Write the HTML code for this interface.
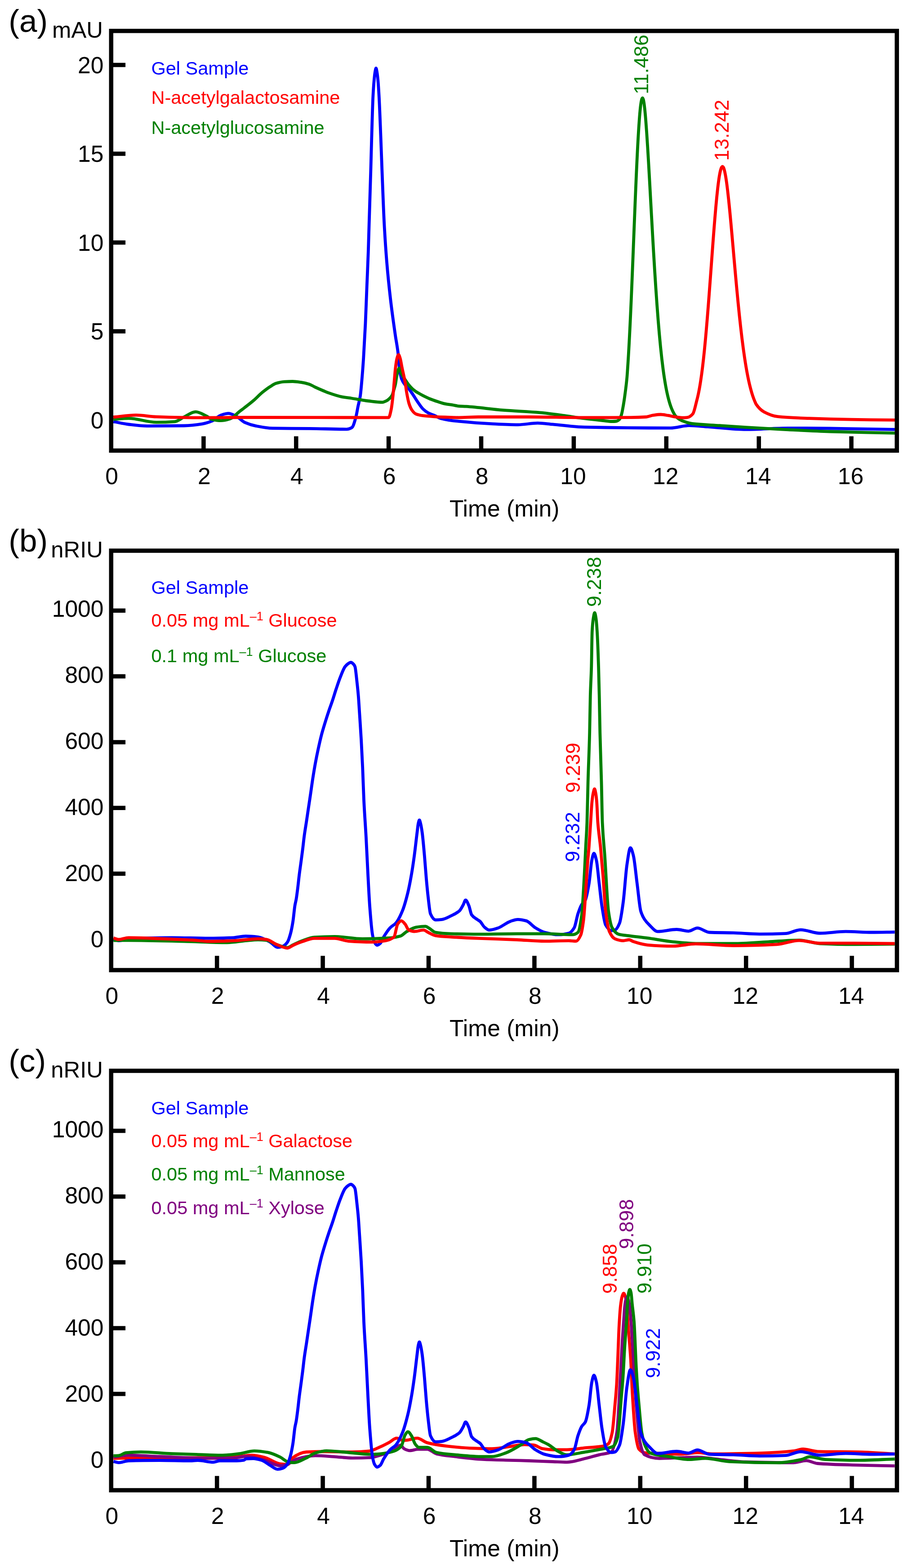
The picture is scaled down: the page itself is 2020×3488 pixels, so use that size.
<!DOCTYPE html><html><head><meta charset="utf-8"><title>Chromatograms</title>
<style>html,body{margin:0;padding:0;background:#fff;}svg{display:block;}text{font-family:'Liberation Sans', Arial, Helvetica, sans-serif;}</style></head><body>
<svg width="2020" height="3488" viewBox="0 0 2020 3488">
<rect width="2020" height="3488" fill="#fff"/>
<clipPath id="clipa"><rect x="247.3" y="68.8" width="1747.9" height="933.5"/></clipPath><g clip-path="url(#clipa)"><path d="M252.20,937.80C263.47,939.87 274.73,942.65 286.00,944.00C299.77,945.65 313.53,947.60 327.30,947.60C354.70,947.60 382.10,947.41 409.50,947.00C423.20,946.79 436.90,945.07 450.60,942.90C457.47,941.81 464.33,939.52 471.20,936.70C478.07,933.88 484.93,925.65 491.80,923.40C497.27,921.60 502.73,919.70 508.20,919.70C513.70,919.70 519.20,922.87 524.70,925.40C531.47,928.51 538.23,936.81 545.00,939.80C553.23,943.44 561.47,945.98 569.70,947.60C582.03,950.03 594.37,952.51 606.70,952.70C634.13,953.13 661.57,953.01 689.00,953.30C716.40,953.59 743.80,954.80 771.20,954.80C775.13,954.80 779.07,953.35 783.00,951.00C785.90,949.27 788.80,938.34 791.70,928.00C793.30,922.30 794.90,911.76 796.50,904.00C798.20,895.76 799.90,891.15 801.60,880.00C802.90,871.47 804.20,855.22 805.50,840.00C806.57,827.51 807.63,813.26 808.70,796.80C810.10,775.20 811.50,749.87 812.90,720.00C814.00,696.53 815.10,664.29 816.20,636.80C817.23,610.98 818.27,589.76 819.30,560.00C819.90,542.72 820.50,519.76 821.10,500.00C822.33,459.39 823.57,422.68 824.80,380.00C825.43,358.08 826.07,331.81 826.70,310.50C827.73,275.74 828.77,235.67 829.80,215.20C830.63,198.69 831.47,186.99 832.30,178.00C833.00,170.44 833.70,163.82 834.40,160.00C835.10,156.18 835.80,151.60 836.50,151.60C837.20,151.60 837.90,156.25 838.60,160.00C839.33,163.93 840.07,170.30 840.80,178.00C841.63,186.74 842.47,200.20 843.30,215.20C844.63,239.20 845.97,276.77 847.30,310.50C848.17,332.42 849.03,357.96 849.90,380.00C851.57,422.39 853.23,469.19 854.90,500.00C856.73,533.90 858.57,559.90 860.40,582.20C863.13,615.45 865.87,640.92 868.60,664.50C872.27,696.14 875.93,721.40 879.60,746.70C881.57,760.27 883.53,768.33 885.50,785.00C886.50,793.47 887.50,811.68 888.50,818.70C890.17,830.39 891.83,838.60 893.50,843.00C896.00,849.60 898.50,852.85 901.00,856.00C903.17,858.73 905.33,860.04 907.50,862.50C910.50,865.90 913.50,870.22 916.50,874.50C920.60,880.35 924.70,887.63 928.80,893.50C932.90,899.37 937.00,906.02 941.10,909.90C945.23,913.81 949.37,916.87 953.50,919.00C957.60,921.12 961.70,922.17 965.80,923.90C971.27,926.21 976.73,929.78 982.20,931.30C987.70,932.82 993.20,933.78 998.70,934.60C1005.80,935.66 1012.90,936.42 1020.00,937.10C1043.97,939.41 1067.93,941.43 1091.90,942.60C1112.00,943.58 1132.10,944.80 1152.20,944.80C1166.83,944.80 1181.47,941.20 1196.10,941.20C1207.07,941.20 1218.03,942.97 1229.00,943.90C1252.67,945.91 1276.33,949.70 1300.00,950.20C1363.97,951.56 1427.93,952.20 1491.90,952.20C1505.60,952.20 1519.30,946.70 1533.00,946.70C1546.73,946.70 1560.47,948.47 1574.20,949.40C1602.80,951.33 1631.40,955.40 1660.00,955.40C1691.07,955.40 1722.13,952.30 1753.20,952.30C1784.27,952.30 1815.33,952.69 1846.40,953.00C1894.57,953.49 1942.73,954.60 1990.90,955.40" fill="none" stroke="#0000ff" stroke-width="6.8" stroke-linejoin="round" stroke-linecap="butt"/><path d="M252.20,932.60C263.47,931.93 274.73,930.60 286.00,930.60C306.60,930.60 327.20,939.40 347.80,939.40C361.53,939.40 375.27,938.90 389.00,937.80C395.83,937.26 402.67,930.71 409.50,927.50C418.07,923.47 426.63,916.20 435.20,916.20C443.10,916.20 451.00,921.63 458.90,925.40C463.00,927.36 467.10,931.57 471.20,932.60C478.07,934.33 484.93,935.70 491.80,935.70C498.63,935.70 505.47,933.78 512.30,931.60C519.17,929.41 526.03,920.49 532.90,915.20C536.50,912.43 540.10,909.87 543.70,907.10C550.70,901.71 557.70,896.41 564.70,890.40C570.87,885.10 577.03,878.26 583.20,873.20C589.37,868.14 595.53,863.46 601.70,859.60C605.80,857.04 609.90,854.04 614.00,852.80C620.17,850.93 626.33,849.44 632.50,849.10C638.67,848.76 644.83,848.50 651.00,848.50C657.17,848.50 663.33,849.52 669.50,850.40C675.67,851.28 681.83,852.71 688.00,854.70C692.13,856.04 696.27,858.86 700.40,860.80C706.93,863.86 713.47,866.74 720.00,869.50C723.37,870.92 726.73,872.41 730.10,873.60C740.37,877.23 750.63,880.79 760.90,882.80C768.00,884.19 775.10,884.91 782.20,886.00C794.80,887.94 807.40,890.56 820.00,892.00C830.27,893.18 840.53,894.80 850.80,894.80C853.87,894.80 856.93,893.03 860.00,891.50C862.00,890.50 864.00,888.86 866.00,887.00C868.10,885.05 870.20,883.11 872.30,879.30C873.53,877.06 874.77,872.09 876.00,868.00C877.23,863.91 878.47,860.28 879.70,854.60C880.80,849.53 881.90,839.31 883.00,834.00C883.83,829.98 884.67,826.22 885.50,824.00C886.33,821.78 887.17,819.00 888.00,819.00C888.83,819.00 889.67,820.50 890.50,822.00C891.33,823.50 892.17,829.00 893.00,831.00C895.67,837.39 898.33,839.92 901.00,844.00C904.00,848.59 907.00,853.34 910.00,857.00C912.50,860.05 915.00,862.74 917.50,865.00C919.83,867.11 922.17,868.91 924.50,870.50C927.33,872.44 930.17,873.97 933.00,875.60C935.67,877.13 938.33,878.64 941.00,880.00C946.33,882.72 951.67,885.35 957.00,887.50C962.67,889.79 968.33,891.67 974.00,893.50C979.50,895.27 985.00,897.29 990.50,898.40C995.97,899.50 1001.43,899.99 1006.90,900.90C1011.27,901.63 1015.63,902.93 1020.00,903.30C1025.67,903.78 1031.33,903.83 1037.00,904.20C1064.43,905.98 1091.87,910.21 1119.30,912.40C1146.73,914.59 1174.17,915.47 1201.60,917.90C1219.87,919.52 1238.13,922.25 1256.40,924.70C1270.93,926.65 1285.47,929.19 1300.00,931.00C1313.70,932.70 1327.40,934.11 1341.10,935.50C1348.07,936.21 1355.03,937.50 1362.00,937.50C1365.00,937.50 1368.00,937.32 1371.00,937.00C1373.17,936.77 1375.33,935.42 1377.50,933.50C1379.17,932.02 1380.83,927.70 1382.50,922.60C1383.97,918.11 1385.43,909.02 1386.90,900.60C1388.00,894.28 1389.10,886.83 1390.20,878.70C1391.73,867.36 1393.27,856.49 1394.80,839.69C1395.18,835.60 1395.55,829.78 1395.92,824.46C1396.30,819.09 1396.68,813.44 1397.06,807.56C1397.44,801.62 1397.82,795.39 1398.20,788.94C1398.59,782.42 1398.97,775.60 1399.36,768.56C1399.75,761.45 1400.14,754.05 1400.53,746.43C1400.93,738.73 1401.32,730.75 1401.71,722.57C1402.11,714.30 1402.51,705.76 1402.91,697.04C1403.31,688.23 1403.71,679.16 1404.12,669.94C1404.52,660.63 1404.93,651.08 1405.34,641.41C1405.75,631.64 1406.16,621.67 1406.57,611.62C1406.98,601.47 1407.40,591.14 1407.81,580.79C1408.23,570.33 1408.65,559.74 1409.07,549.17C1409.49,538.49 1409.92,527.73 1410.34,517.05C1410.77,506.26 1411.19,495.44 1411.62,484.76C1412.05,473.98 1412.48,463.21 1412.91,452.65C1413.35,442.00 1413.79,431.41 1414.22,421.11C1414.66,410.70 1415.10,400.43 1415.54,390.51C1415.98,380.50 1416.43,370.67 1416.87,361.27C1417.32,351.78 1417.76,342.53 1418.21,333.78C1418.66,324.95 1419.12,316.41 1419.57,308.44C1420.02,300.40 1420.48,292.68 1420.94,285.62C1421.40,278.49 1421.86,271.71 1422.32,265.66C1422.78,259.56 1423.24,253.81 1423.71,248.88C1424.18,243.90 1424.64,239.26 1425.11,235.54C1425.58,231.78 1426.06,228.27 1426.53,225.85C1427.01,223.40 1427.48,220.95 1427.96,219.97C1428.44,218.98 1428.92,218.00 1429.40,218.00C1429.98,218.00 1430.55,219.63 1431.13,221.23C1431.72,222.87 1432.32,226.90 1432.91,230.82C1433.53,234.86 1434.14,240.57 1434.76,246.52C1435.39,252.67 1436.03,260.14 1436.66,267.93C1437.32,275.96 1437.97,285.08 1438.62,294.49C1439.30,304.18 1439.97,314.75 1440.65,325.54C1441.34,336.64 1442.03,348.42 1442.73,360.32C1443.44,372.56 1444.16,385.29 1444.87,398.03C1445.60,411.11 1446.34,424.52 1447.07,437.82C1447.82,451.47 1448.57,465.28 1449.33,478.86C1450.10,492.80 1450.87,506.75 1451.65,520.36C1452.44,534.31 1453.23,548.16 1454.02,561.56C1454.84,575.30 1455.65,588.81 1456.46,601.81C1457.29,615.12 1458.12,628.10 1458.96,640.51C1459.81,653.22 1460.66,665.53 1461.51,677.21C1462.38,689.17 1463.25,700.68 1464.12,711.53C1465.02,722.63 1465.91,733.25 1466.80,743.21C1467.71,753.39 1468.62,763.06 1469.53,772.08C1470.46,781.30 1471.39,790.01 1472.32,798.08C1473.27,806.33 1474.22,814.08 1475.17,821.22C1476.14,828.51 1477.11,835.33 1478.08,841.57C1479.07,847.94 1480.06,853.87 1481.05,859.27C1482.06,864.78 1483.07,869.88 1484.08,874.50C1485.11,879.20 1486.14,883.54 1487.17,887.45C1488.22,891.43 1489.26,895.08 1490.31,898.35C1491.38,901.69 1492.45,904.73 1493.52,907.44C1494.61,910.20 1495.70,912.76 1496.78,914.92C1498.86,919.03 1500.93,923.07 1503.00,925.50C1505.67,928.62 1508.33,930.87 1511.00,932.50C1515.50,935.26 1520.00,937.14 1524.50,938.60C1529.67,940.28 1534.83,941.87 1540.00,942.50C1560.53,944.99 1581.07,945.30 1601.60,946.70C1621.07,948.03 1640.53,949.51 1660.00,950.70C1691.07,952.61 1722.13,954.26 1753.20,955.80C1784.27,957.34 1815.33,959.04 1846.40,960.00C1894.57,961.50 1942.73,962.20 1990.90,963.30" fill="none" stroke="#008000" stroke-width="6.8" stroke-linejoin="round" stroke-linecap="butt"/><path d="M252.20,927.90C269.00,926.40 285.80,923.40 302.60,923.40C317.67,923.40 332.73,926.59 347.80,927.10C382.07,928.27 416.33,929.10 450.60,929.10C482.07,929.10 513.53,928.50 545.00,928.50C651.53,928.50 758.07,928.90 864.60,928.90C866.53,928.90 868.47,919.09 870.40,910.00C871.70,903.89 873.00,892.09 874.30,880.00C875.13,872.25 875.97,860.93 876.80,851.60C877.80,840.40 878.80,826.59 879.80,818.50C880.93,809.34 882.07,800.81 883.20,797.00C884.37,793.07 885.53,789.00 886.70,789.00C887.87,789.00 889.03,793.39 890.20,797.00C891.63,801.44 893.07,811.54 894.50,818.50C896.73,829.35 898.97,837.56 901.20,850.00C902.47,857.05 903.73,868.08 905.00,875.00C906.63,883.92 908.27,892.59 909.90,897.60C912.10,904.35 914.30,909.31 916.50,912.40C919.23,916.23 921.97,919.43 924.70,920.60C930.17,922.94 935.63,923.98 941.10,924.70C949.33,925.78 957.57,926.29 965.80,926.80C974.03,927.31 982.27,927.71 990.50,928.00C1000.33,928.35 1010.17,928.80 1020.00,928.80C1034.83,928.80 1049.67,927.50 1064.50,927.50C1101.07,927.50 1137.63,927.50 1174.20,927.50C1216.13,927.50 1258.07,928.90 1300.00,928.90C1334.63,928.90 1369.27,928.82 1403.90,928.60C1414.87,928.53 1425.83,928.20 1436.80,927.50C1442.27,927.15 1447.73,924.48 1453.20,923.70C1458.70,922.92 1464.20,922.00 1469.70,922.00C1475.17,922.00 1480.63,923.32 1486.10,924.20C1491.60,925.08 1497.10,926.78 1502.60,927.50C1508.40,928.26 1514.20,929.20 1520.00,929.20C1523.33,929.20 1526.67,928.82 1530.00,928.30C1533.77,927.71 1537.53,924.98 1541.30,920.60C1544.37,917.04 1547.43,900.89 1550.50,889.34C1551.19,886.74 1551.88,883.95 1552.57,880.94C1553.26,877.92 1553.96,874.65 1554.65,871.17C1555.34,867.68 1556.03,863.91 1556.73,859.91C1557.42,855.91 1558.12,851.61 1558.81,847.07C1559.50,842.52 1560.20,837.65 1560.89,832.54C1561.59,827.41 1562.28,821.96 1562.98,816.25C1563.67,810.53 1564.37,804.47 1565.07,798.16C1565.76,791.85 1566.46,785.18 1567.16,778.28C1567.85,771.36 1568.55,764.11 1569.25,756.62C1569.95,749.13 1570.64,741.31 1571.34,733.28C1572.04,725.24 1572.74,716.90 1573.44,708.38C1574.14,699.86 1574.84,691.06 1575.54,682.12C1576.24,673.18 1576.94,663.99 1577.64,654.73C1578.34,645.46 1579.04,635.99 1579.74,626.50C1580.45,617.00 1581.15,607.37 1581.85,597.78C1582.55,588.18 1583.26,578.50 1583.96,568.95C1584.66,559.39 1585.37,549.81 1586.07,540.45C1586.77,531.07 1587.48,521.74 1588.18,512.72C1588.89,503.68 1589.59,494.76 1590.30,486.23C1591.00,477.70 1591.71,469.34 1592.41,461.47C1593.12,453.59 1593.83,445.94 1594.53,438.89C1595.24,431.82 1595.95,425.03 1596.66,418.93C1597.36,412.82 1598.07,407.02 1598.78,402.00C1599.49,396.98 1600.20,392.25 1600.91,388.44C1601.62,384.63 1602.33,381.04 1603.04,378.55C1603.75,376.05 1604.46,373.53 1605.17,372.52C1605.88,371.51 1606.59,370.50 1607.30,370.50C1608.02,370.50 1608.75,371.62 1609.47,372.71C1610.21,373.83 1610.95,376.59 1611.69,379.29C1612.44,382.05 1613.20,385.96 1613.95,390.08C1614.72,394.28 1615.49,399.43 1616.26,404.83C1617.05,410.35 1617.83,416.65 1618.62,423.21C1619.42,429.90 1620.22,437.25 1621.03,444.81C1621.84,452.51 1622.66,460.75 1623.48,469.15C1624.31,477.70 1625.14,486.67 1625.98,495.72C1626.82,504.94 1627.67,514.47 1628.52,523.99C1629.38,533.70 1630.25,543.60 1631.11,553.43C1631.99,563.43 1632.87,573.53 1633.75,583.49C1634.65,593.62 1635.54,603.75 1636.44,613.67C1637.35,623.76 1638.26,633.78 1639.17,643.51C1640.10,653.42 1641.02,663.17 1641.95,672.60C1642.89,682.18 1643.83,691.56 1644.78,700.57C1645.73,709.73 1646.69,718.63 1647.65,727.13C1648.62,735.77 1649.60,744.12 1650.57,752.05C1651.56,760.11 1652.55,767.85 1653.54,775.16C1654.54,782.59 1655.55,789.69 1656.55,796.35C1657.57,803.12 1658.59,809.56 1659.61,815.58C1660.65,821.69 1661.68,827.47 1662.72,832.84C1663.77,838.29 1664.82,843.43 1665.88,848.17C1666.94,852.99 1668.01,857.51 1669.08,861.66C1670.16,865.88 1671.24,869.81 1672.32,873.41C1673.42,877.07 1674.52,880.46 1675.62,883.55C1676.73,886.68 1677.85,889.58 1678.96,892.21C1680.09,894.87 1681.22,897.89 1682.35,899.54C1688.10,907.93 1693.85,913.13 1699.60,916.20C1709.70,921.58 1719.80,925.60 1729.90,926.70C1753.20,929.23 1776.50,929.83 1799.80,930.70C1830.87,931.85 1861.93,932.68 1893.00,933.20C1925.63,933.75 1958.27,934.00 1990.90,934.40" fill="none" stroke="#ff0000" stroke-width="6.8" stroke-linejoin="round" stroke-linecap="butt"/></g><rect x="247.3" y="68.8" width="1747.9" height="933.5" fill="none" stroke="#000" stroke-width="9.5"/><text x="248.5" y="1077.3" font-size="51.6" text-anchor="middle">0</text><text x="454.4" y="1077.3" font-size="51.6" text-anchor="middle">2</text><text x="660.3" y="1077.3" font-size="51.6" text-anchor="middle">4</text><text x="866.1" y="1077.3" font-size="51.6" text-anchor="middle">6</text><text x="1072.0" y="1077.3" font-size="51.6" text-anchor="middle">8</text><text x="1274.9" y="1077.3" font-size="51.6" text-anchor="middle">10</text><text x="1480.8" y="1077.3" font-size="51.6" text-anchor="middle">12</text><text x="1686.7" y="1077.3" font-size="51.6" text-anchor="middle">14</text><text x="1892.5" y="1077.3" font-size="51.6" text-anchor="middle">16</text><text x="230.5" y="952.7" font-size="51.6" text-anchor="end">0</text><text x="230.5" y="755.2" font-size="51.6" text-anchor="end">5</text><text x="230.5" y="557.7" font-size="51.6" text-anchor="end">10</text><text x="230.5" y="360.2" font-size="51.6" text-anchor="end">15</text><text x="230.5" y="162.7" font-size="51.6" text-anchor="end">20</text><path d="M452.9,1002.3V970.5M658.8,1002.3V970.5M864.6,1002.3V970.5M1070.5,1002.3V970.5M1276.4,1002.3V970.5M1482.3,1002.3V970.5M1688.2,1002.3V970.5M1894.0,1002.3V970.5M247.3,737.0H279.1M247.3,539.5H279.1M247.3,342.0H279.1M247.3,144.5H279.1" stroke="#000" stroke-width="9.5" fill="none"/><text x="1122.2" y="1149.3" font-size="51.6" text-anchor="middle">Time (min)</text><text x="19.3" y="71.2" font-size="71">(a)</text><text x="229.0" y="83.9" font-size="50.8" text-anchor="end">mAU</text><text x="336.5" y="166.1" font-size="41.5" fill="#0000ff">Gel Sample</text><text x="336.5" y="231.4" font-size="41.5" fill="#ff0000">N-acetylgalactosamine</text><text x="336.5" y="297.6" font-size="41.5" fill="#008000">N-acetylglucosamine</text><text transform="translate(1442.2,143.3) rotate(-90)" font-size="44.5" text-anchor="middle" fill="#008000">11.486</text><text transform="translate(1620.5,289.7) rotate(-90)" font-size="44.5" text-anchor="middle" fill="#ff0000">13.242</text>
<clipPath id="clipb"><rect x="247.3" y="1225.0" width="1748.1" height="933.0"/></clipPath><g clip-path="url(#clipb)"><path d="M252.50,2089.90C256.40,2090.83 260.30,2092.70 264.20,2092.70C271.50,2092.70 278.80,2088.92 286.10,2088.50C318.10,2086.64 350.10,2085.80 382.10,2085.80C409.50,2085.80 436.90,2087.20 464.30,2087.20C482.60,2087.20 500.90,2086.63 519.20,2085.80C528.33,2085.39 537.47,2082.50 546.60,2082.50C555.73,2082.50 564.87,2083.31 574.00,2084.40C583.03,2085.48 592.07,2090.85 601.10,2095.70C606.60,2098.65 612.10,2107.40 617.60,2107.40C621.23,2107.40 624.87,2106.45 628.50,2105.30C632.17,2104.14 635.83,2100.77 639.50,2095.70C641.80,2092.52 644.10,2084.87 646.40,2076.50C648.20,2069.95 650.00,2060.48 651.80,2049.10C653.20,2040.25 654.60,2023.29 656.00,2014.80C657.00,2008.73 658.00,2005.86 659.00,2000.00C660.13,1993.36 661.27,1984.21 662.40,1975.20C663.50,1966.45 664.60,1955.22 665.70,1946.40C667.00,1935.98 668.30,1927.33 669.60,1917.60C670.87,1908.12 672.13,1898.94 673.40,1888.80C674.53,1879.72 675.67,1868.47 676.80,1860.00C678.50,1847.29 680.20,1837.69 681.90,1826.40C683.33,1816.88 684.77,1807.20 686.20,1797.60C687.63,1788.00 689.07,1778.53 690.50,1768.80C692.30,1756.58 694.10,1743.13 695.90,1731.60C697.73,1719.86 699.57,1708.70 701.40,1698.70C703.60,1686.70 705.80,1675.94 708.00,1665.80C710.57,1653.97 713.13,1642.60 715.70,1632.90C718.97,1620.56 722.23,1610.43 725.50,1600.00C727.50,1593.61 729.50,1587.51 731.50,1581.60C734.07,1574.01 736.63,1567.34 739.20,1559.70C742.13,1550.97 745.07,1540.97 748.00,1532.20C750.93,1523.43 753.87,1514.35 756.80,1507.00C760.43,1497.89 764.07,1487.59 767.70,1482.90C770.13,1479.76 772.57,1477.44 775.00,1476.00C776.90,1474.88 778.80,1473.50 780.70,1473.50C782.47,1473.50 784.23,1475.31 786.00,1477.00C787.23,1478.18 788.47,1479.70 789.70,1482.90C791.13,1486.62 792.57,1503.32 794.00,1515.80C795.10,1525.38 796.20,1535.36 797.30,1548.70C798.03,1557.59 798.77,1570.42 799.50,1581.60C800.87,1602.43 802.23,1621.55 803.60,1645.60C804.63,1663.78 805.67,1683.96 806.70,1707.30C807.63,1728.38 808.57,1760.58 809.50,1780.00C811.13,1813.98 812.77,1832.37 814.40,1862.30C815.77,1887.35 817.13,1918.91 818.50,1944.50C819.87,1970.09 821.23,1998.50 822.60,2016.50C824.67,2043.73 826.73,2068.85 828.80,2080.00C830.20,2087.55 831.60,2093.56 833.00,2096.00C835.00,2099.49 837.00,2102.50 839.00,2102.50C841.33,2102.50 843.67,2100.54 846.00,2098.50C848.50,2096.32 851.00,2088.42 853.50,2084.30C858.30,2076.38 863.10,2068.73 867.90,2063.80C872.13,2059.45 876.37,2058.24 880.60,2053.50C885.40,2048.13 890.20,2038.34 895.00,2026.80C899.10,2016.94 903.20,2002.29 907.30,1985.60C910.03,1974.48 912.77,1960.20 915.50,1944.50C917.57,1932.63 919.63,1918.63 921.70,1903.40C923.77,1888.17 925.83,1868.41 927.90,1852.00C928.77,1845.12 929.63,1835.84 930.50,1832.00C931.33,1828.31 932.17,1824.20 933.00,1824.20C933.90,1824.20 934.80,1828.59 935.70,1832.00C936.87,1836.41 938.03,1843.63 939.20,1852.00C940.90,1864.19 942.60,1884.33 944.30,1903.40C945.67,1918.73 947.03,1939.57 948.40,1954.80C949.77,1970.03 951.13,1984.45 952.50,1995.90C954.23,2010.42 955.97,2029.04 957.70,2032.90C961.47,2041.30 965.23,2046.30 969.00,2046.30C973.80,2046.30 978.60,2045.85 983.40,2045.30C990.27,2044.52 997.13,2040.35 1004.00,2037.00C1010.17,2033.99 1016.33,2031.51 1022.50,2025.70C1025.23,2023.12 1027.97,2017.36 1030.70,2012.40C1032.40,2009.32 1034.10,2002.10 1035.80,2002.10C1038.20,2002.10 1040.60,2008.94 1043.00,2014.40C1045.07,2019.10 1047.13,2032.04 1049.20,2035.00C1053.30,2040.87 1057.40,2042.31 1061.50,2045.30C1063.57,2046.81 1065.63,2047.64 1067.70,2049.40C1071.13,2052.32 1074.57,2059.88 1078.00,2062.70C1081.43,2065.52 1084.87,2068.90 1088.30,2068.90C1094.47,2068.90 1100.63,2066.68 1106.80,2064.80C1116.40,2061.88 1126.00,2052.57 1135.60,2049.40C1141.07,2047.60 1146.53,2045.30 1152.00,2045.30C1158.20,2045.30 1164.40,2046.73 1170.60,2048.40C1177.43,2050.25 1184.27,2059.70 1191.10,2063.80C1197.97,2067.92 1204.83,2072.33 1211.70,2074.10C1221.97,2076.74 1232.23,2079.20 1242.50,2079.20C1250.07,2079.20 1257.63,2078.07 1265.20,2076.10C1269.30,2075.03 1273.40,2070.54 1277.50,2063.80C1280.23,2059.31 1282.97,2041.12 1285.70,2032.90C1288.43,2024.68 1291.17,2016.94 1293.90,2012.40C1296.67,2007.81 1299.43,2007.49 1302.20,2002.10C1304.93,1996.77 1307.67,1981.29 1310.40,1965.10C1312.47,1952.86 1314.53,1923.26 1316.60,1913.70C1318.17,1906.45 1319.73,1898.20 1321.30,1898.20C1323.13,1898.20 1324.97,1906.06 1326.80,1913.70C1328.87,1922.31 1330.93,1947.97 1333.00,1965.10C1335.07,1982.23 1337.13,2003.44 1339.20,2016.50C1341.93,2033.77 1344.67,2052.80 1347.40,2057.60C1351.50,2064.80 1355.60,2070.00 1359.70,2070.00C1362.47,2070.00 1365.23,2069.55 1368.00,2068.90C1371.43,2068.09 1374.87,2061.84 1378.30,2053.50C1381.03,2046.86 1383.77,2026.22 1386.50,2006.20C1389.23,1986.18 1391.97,1941.90 1394.70,1924.00C1397.30,1906.97 1399.90,1885.90 1402.50,1885.90C1404.70,1885.90 1406.90,1894.92 1409.10,1903.40C1411.83,1913.94 1414.57,1944.53 1417.30,1965.10C1420.03,1985.67 1422.77,2017.51 1425.50,2026.80C1428.27,2036.21 1431.03,2040.74 1433.80,2045.00C1437.53,2050.75 1441.27,2054.45 1445.00,2058.00C1451.00,2063.70 1457.00,2072.10 1463.00,2072.10C1477.07,2072.10 1491.13,2067.50 1505.20,2067.50C1514.17,2067.50 1523.13,2071.30 1532.10,2071.30C1538.50,2071.30 1544.90,2064.40 1551.30,2064.40C1560.27,2064.40 1569.23,2073.58 1578.20,2074.00C1596.10,2074.83 1614.00,2074.66 1631.90,2075.20C1651.10,2075.78 1670.30,2077.90 1689.50,2077.90C1708.67,2077.90 1727.83,2077.49 1747.00,2076.70C1758.53,2076.22 1770.07,2068.30 1781.60,2068.30C1795.67,2068.30 1809.73,2076.00 1823.80,2076.00C1843.00,2076.00 1862.20,2072.10 1881.40,2072.10C1900.60,2072.10 1919.80,2074.00 1939.00,2074.00C1956.17,2074.00 1973.33,2073.53 1990.50,2073.30" fill="none" stroke="#0000ff" stroke-width="6.8" stroke-linejoin="round" stroke-linecap="butt"/><path d="M252.50,2092.00C263.70,2091.93 274.90,2091.80 286.10,2091.80C327.23,2091.80 368.37,2093.08 409.50,2094.00C441.50,2094.72 473.50,2096.80 505.50,2096.80C519.20,2096.80 532.90,2093.91 546.60,2092.70C555.73,2091.89 564.87,2090.50 574.00,2090.50C580.40,2090.50 586.80,2090.91 593.20,2091.50C600.50,2092.17 607.80,2098.48 615.10,2101.00C623.27,2103.82 631.43,2108.00 639.60,2108.00C643.73,2108.00 647.87,2103.76 652.00,2101.80C658.83,2098.55 665.67,2095.00 672.50,2092.60C681.43,2089.46 690.37,2085.63 699.30,2085.00C714.37,2083.93 729.43,2083.30 744.50,2083.30C765.07,2083.30 785.63,2088.40 806.20,2088.40C826.77,2088.40 847.33,2087.66 867.90,2086.40C875.53,2085.93 883.17,2084.59 890.80,2082.30C895.60,2080.86 900.40,2074.69 905.20,2072.00C912.07,2068.15 918.93,2063.80 925.80,2062.70C932.67,2061.60 939.53,2060.70 946.40,2060.70C949.13,2060.70 951.87,2063.28 954.60,2064.80C959.40,2067.47 964.20,2073.29 969.00,2074.10C980.67,2076.08 992.33,2076.73 1004.00,2077.10C1024.53,2077.75 1045.07,2078.20 1065.60,2078.20C1093.73,2078.20 1121.87,2077.10 1150.00,2077.10C1170.57,2077.10 1191.13,2077.10 1211.70,2077.10C1232.27,2077.10 1252.83,2079.20 1273.40,2079.20C1277.50,2079.20 1281.60,2077.40 1285.70,2074.10C1288.43,2071.90 1291.17,2056.46 1293.90,2037.00C1295.97,2022.29 1298.03,1980.90 1300.10,1944.50C1301.07,1927.47 1302.03,1904.05 1303.00,1885.00C1303.97,1865.95 1304.93,1855.48 1305.90,1830.00C1306.63,1810.67 1307.37,1765.96 1308.10,1740.00C1309.30,1697.53 1310.50,1677.61 1311.70,1630.00C1312.23,1608.84 1312.77,1566.56 1313.30,1547.50C1314.10,1518.91 1314.90,1512.18 1315.70,1484.00C1316.23,1465.21 1316.77,1414.73 1317.30,1404.60C1318.20,1387.51 1319.10,1380.44 1320.00,1375.00C1320.97,1369.16 1321.93,1363.00 1322.90,1363.00C1323.87,1363.00 1324.83,1369.08 1325.80,1375.00C1326.67,1380.31 1327.53,1391.24 1328.40,1404.60C1329.47,1421.04 1330.53,1450.57 1331.60,1484.00C1332.13,1500.71 1332.67,1523.58 1333.20,1547.50C1333.73,1571.42 1334.27,1607.50 1334.80,1630.00C1335.87,1675.00 1336.93,1698.99 1338.00,1740.00C1338.70,1766.91 1339.40,1814.18 1340.10,1830.00C1341.87,1869.93 1343.63,1877.99 1345.40,1903.40C1348.13,1942.71 1350.87,2007.82 1353.60,2026.80C1356.33,2045.78 1359.07,2059.05 1361.80,2063.80C1366.60,2072.14 1371.40,2076.89 1376.20,2078.20C1383.07,2080.08 1389.93,2080.35 1396.80,2081.30C1411.20,2083.29 1425.60,2084.77 1440.00,2086.70C1459.20,2089.28 1478.40,2093.32 1497.60,2095.10C1516.77,2096.87 1535.93,2099.00 1555.10,2099.00C1580.70,2099.00 1606.30,2099.00 1631.90,2099.00C1657.50,2099.00 1683.10,2096.45 1708.70,2095.10C1731.73,2093.88 1754.77,2091.30 1777.80,2091.30C1793.13,2091.30 1808.47,2098.30 1823.80,2099.00C1849.40,2100.18 1875.00,2100.90 1900.60,2100.90C1930.57,2100.90 1960.53,2100.37 1990.50,2100.10" fill="none" stroke="#008000" stroke-width="6.8" stroke-linejoin="round" stroke-linecap="butt"/><path d="M252.50,2086.60C256.40,2087.70 260.30,2089.90 264.20,2089.90C271.50,2089.90 278.80,2085.80 286.10,2085.80C308.97,2085.80 331.83,2087.14 354.70,2088.00C382.10,2089.03 409.50,2090.12 436.90,2091.80C446.03,2092.36 455.17,2094.00 464.30,2094.00C482.60,2094.00 500.90,2093.36 519.20,2092.70C537.47,2092.04 555.73,2088.50 574.00,2088.50C580.40,2088.50 586.80,2089.10 593.20,2089.90C600.50,2090.81 607.80,2097.98 615.10,2100.90C623.27,2104.17 631.43,2109.00 639.60,2109.00C643.73,2109.00 647.87,2104.65 652.00,2102.80C658.83,2099.74 665.67,2096.82 672.50,2094.60C681.43,2091.70 690.37,2087.40 699.30,2087.40C714.37,2087.40 729.43,2087.40 744.50,2087.40C754.77,2087.40 765.03,2092.89 775.30,2093.60C792.47,2094.78 809.63,2095.60 826.80,2095.60C837.07,2095.60 847.33,2094.32 857.60,2092.60C863.90,2091.54 870.20,2089.78 876.50,2084.30C879.23,2081.92 881.97,2059.44 884.70,2055.60C887.43,2051.76 890.17,2048.40 892.90,2048.40C895.63,2048.40 898.37,2052.50 901.10,2055.60C903.87,2058.74 906.63,2067.64 909.40,2068.90C913.50,2070.77 917.60,2072.00 921.70,2072.00C928.57,2072.00 935.43,2068.90 942.30,2068.90C945.70,2068.90 949.10,2072.49 952.50,2074.10C958.00,2076.70 963.50,2080.44 969.00,2081.30C980.67,2083.12 992.33,2083.54 1004.00,2084.30C1024.53,2085.63 1045.07,2086.52 1065.60,2087.40C1093.73,2088.60 1121.87,2089.30 1150.00,2090.50C1170.57,2091.38 1191.13,2093.60 1211.70,2093.60C1229.53,2093.60 1247.37,2092.60 1265.20,2092.60C1270.67,2092.60 1276.13,2093.60 1281.60,2093.60C1285.03,2093.60 1288.47,2087.75 1291.90,2080.20C1293.97,2075.65 1296.03,2063.06 1298.10,2047.30C1300.13,2031.80 1302.17,1994.56 1304.20,1965.10C1305.13,1951.58 1306.07,1934.36 1307.00,1922.00C1308.13,1906.99 1309.27,1897.60 1310.40,1882.80C1311.57,1867.56 1312.73,1847.61 1313.90,1830.00C1314.93,1814.41 1315.97,1792.88 1317.00,1783.20C1317.93,1774.45 1318.87,1768.09 1319.80,1764.00C1320.73,1759.91 1321.67,1755.00 1322.60,1755.00C1323.47,1755.00 1324.33,1759.72 1325.20,1764.00C1325.97,1767.78 1326.73,1774.39 1327.50,1783.20C1328.33,1792.77 1329.17,1819.24 1330.00,1830.00C1332.00,1855.83 1334.00,1864.59 1336.00,1885.00C1337.73,1902.69 1339.47,1923.24 1341.20,1944.50C1343.27,1969.85 1345.33,2010.39 1347.40,2026.80C1350.13,2048.51 1352.87,2065.92 1355.60,2072.00C1359.73,2081.20 1363.87,2086.72 1368.00,2088.40C1374.17,2090.91 1380.33,2092.60 1386.50,2092.60C1390.93,2092.60 1395.37,2090.50 1399.80,2090.50C1402.90,2090.50 1406.00,2093.58 1409.10,2094.60C1419.40,2098.00 1429.70,2101.26 1440.00,2102.10C1459.20,2103.67 1478.40,2104.70 1497.60,2104.70C1514.23,2104.70 1530.87,2099.70 1547.50,2099.70C1575.63,2099.70 1603.77,2103.60 1631.90,2103.60C1663.90,2103.60 1695.90,2102.58 1727.90,2100.90C1744.53,2100.03 1761.17,2092.10 1777.80,2092.10C1793.13,2092.10 1808.47,2098.20 1823.80,2098.20C1849.40,2098.20 1875.00,2098.20 1900.60,2098.20C1930.57,2098.20 1960.53,2098.73 1990.50,2099.00" fill="none" stroke="#ff0000" stroke-width="6.8" stroke-linejoin="round" stroke-linecap="butt"/></g><rect x="247.3" y="1225.0" width="1748.1" height="933.0" fill="none" stroke="#000" stroke-width="9.5"/><text x="248.8" y="2233.0" font-size="51.6" text-anchor="middle">0</text><text x="484.2" y="2233.0" font-size="51.6" text-anchor="middle">2</text><text x="719.6" y="2233.0" font-size="51.6" text-anchor="middle">4</text><text x="955.0" y="2233.0" font-size="51.6" text-anchor="middle">6</text><text x="1190.4" y="2233.0" font-size="51.6" text-anchor="middle">8</text><text x="1422.8" y="2233.0" font-size="51.6" text-anchor="middle">10</text><text x="1658.2" y="2233.0" font-size="51.6" text-anchor="middle">12</text><text x="1893.6" y="2233.0" font-size="51.6" text-anchor="middle">14</text><text x="230.5" y="2107.4" font-size="51.6" text-anchor="end">0</text><text x="230.5" y="1960.3" font-size="51.6" text-anchor="end">200</text><text x="230.5" y="1813.2" font-size="51.6" text-anchor="end">400</text><text x="230.5" y="1666.0" font-size="51.6" text-anchor="end">600</text><text x="230.5" y="1518.9" font-size="51.6" text-anchor="end">800</text><text x="230.5" y="1371.8" font-size="51.6" text-anchor="end">1000</text><path d="M482.7,2158.0V2126.2M718.1,2158.0V2126.2M953.5,2158.0V2126.2M1188.9,2158.0V2126.2M1424.3,2158.0V2126.2M1659.7,2158.0V2126.2M1895.1,2158.0V2126.2M247.3,1943.6H279.1M247.3,1797.3H279.1M247.3,1650.9H279.1M247.3,1504.6H279.1M247.3,1358.3H279.1" stroke="#000" stroke-width="9.5" fill="none"/><text x="1122.4" y="2305.0" font-size="51.6" text-anchor="middle">Time (min)</text><text x="19.3" y="1227.4" font-size="71">(b)</text><text x="229.0" y="1240.1" font-size="50.8" text-anchor="end">nRIU</text><text x="336.5" y="1321.1" font-size="41.5" fill="#0000ff">Gel Sample</text><text x="336.5" y="1393.8" font-size="41.5" fill="#ff0000">0.05 mg mL<tspan font-size="27" dy="-14.1">–1</tspan><tspan dy="14.1"> </tspan>Glucose</text><text x="336.5" y="1472.6" font-size="41.5" fill="#008000">0.1 mg mL<tspan font-size="27" dy="-14.1">–1</tspan><tspan dy="14.1"> </tspan>Glucose</text><text transform="translate(1337.1,1294.3) rotate(-90)" font-size="44.5" text-anchor="middle" fill="#008000">9.238</text><text transform="translate(1289.9,1708.0) rotate(-90)" font-size="44.5" text-anchor="middle" fill="#ff0000">9.239</text><text transform="translate(1288.8,1861.8) rotate(-90)" font-size="44.5" text-anchor="middle" fill="#0000ff">9.232</text>
<clipPath id="clipc"><rect x="247.3" y="2382.0" width="1748.1" height="933.0"/></clipPath><g clip-path="url(#clipc)"><path d="M252.50,3244.00C277.40,3243.73 302.30,3243.34 327.20,3243.20C372.90,3242.94 418.60,3243.03 464.30,3242.70C482.60,3242.57 500.90,3242.07 519.20,3241.30C532.90,3240.73 546.60,3237.20 560.30,3237.20C569.43,3237.20 578.57,3239.66 587.70,3241.80C599.57,3244.58 611.43,3254.87 623.30,3256.40C628.87,3257.12 634.43,3257.80 640.00,3257.80C643.43,3257.80 646.87,3245.90 650.30,3243.40C660.57,3235.93 670.83,3230.49 681.10,3230.00C694.83,3229.34 708.57,3229.00 722.30,3229.00C742.87,3229.00 763.43,3230.00 784.00,3230.00C796.33,3230.00 808.67,3229.23 821.00,3228.00C829.20,3227.18 837.40,3222.25 845.60,3218.70C852.47,3215.73 859.33,3212.04 866.20,3208.40C871.67,3205.50 877.13,3199.20 882.60,3199.20C887.40,3199.20 892.20,3204.30 897.00,3204.30C900.43,3204.30 903.87,3203.73 907.30,3203.30C914.17,3202.44 921.03,3199.20 927.90,3199.20C935.47,3199.20 943.03,3207.41 950.60,3209.40C964.30,3213.01 978.00,3215.02 991.70,3216.60C1012.27,3218.97 1032.83,3220.95 1053.40,3221.70C1067.10,3222.20 1080.80,3222.70 1094.50,3222.70C1108.20,3222.70 1121.90,3219.36 1135.60,3217.60C1145.90,3216.28 1156.20,3213.50 1166.50,3213.50C1173.33,3213.50 1180.17,3213.91 1187.00,3214.50C1193.87,3215.10 1200.73,3221.57 1207.60,3222.70C1215.07,3223.93 1222.53,3225.00 1230.00,3225.00C1240.37,3225.00 1250.73,3224.92 1261.10,3224.80C1274.83,3224.64 1288.57,3222.07 1302.30,3220.70C1316.00,3219.33 1329.70,3219.23 1343.40,3216.60C1346.83,3215.94 1350.27,3214.45 1353.70,3211.40C1356.43,3208.97 1359.17,3199.72 1361.90,3186.80C1363.97,3177.03 1366.03,3147.94 1368.10,3125.10C1369.33,3111.47 1370.57,3099.72 1371.80,3080.00C1372.70,3065.61 1373.60,3041.17 1374.50,3020.00C1375.43,2998.05 1376.37,2966.91 1377.30,2950.00C1378.37,2930.68 1379.43,2914.03 1380.50,2905.00C1381.67,2895.13 1382.83,2887.50 1384.00,2884.00C1385.17,2880.50 1386.33,2877.00 1387.50,2877.00C1388.67,2877.00 1389.83,2880.50 1391.00,2884.00C1392.17,2887.50 1393.33,2894.89 1394.50,2905.00C1395.50,2913.67 1396.50,2935.90 1397.50,2950.00C1399.33,2975.86 1401.17,2992.89 1403.00,3022.30C1404.37,3044.22 1405.73,3082.36 1407.10,3104.50C1409.17,3137.97 1411.23,3172.56 1413.30,3186.80C1416.03,3205.64 1418.77,3220.82 1421.50,3223.80C1426.30,3229.02 1431.10,3231.67 1435.90,3232.00C1446.20,3232.71 1456.50,3232.64 1466.80,3233.00C1483.07,3233.57 1499.33,3234.90 1515.60,3234.90C1527.50,3234.90 1539.40,3231.30 1551.30,3231.30C1563.17,3231.30 1575.03,3234.20 1586.90,3234.20C1622.53,3234.20 1658.17,3233.40 1693.80,3232.40C1717.57,3231.74 1741.33,3230.28 1765.10,3227.70C1772.23,3226.93 1779.37,3223.50 1786.50,3223.50C1797.20,3223.50 1807.90,3228.52 1818.60,3228.80C1848.30,3229.59 1878.00,3229.30 1907.70,3229.90C1935.30,3230.45 1962.90,3232.77 1990.50,3234.20" fill="none" stroke="#ff0000" stroke-width="6.8" stroke-linejoin="round" stroke-linecap="butt"/><path d="M252.50,3241.30C263.70,3239.93 274.90,3237.20 286.10,3237.20C308.97,3237.20 331.83,3239.02 354.70,3239.90C391.23,3241.30 427.77,3244.00 464.30,3244.00C482.60,3244.00 500.90,3243.85 519.20,3243.50C528.33,3243.33 537.47,3239.90 546.60,3239.90C560.30,3239.90 574.00,3244.60 587.70,3248.10C599.57,3251.13 611.43,3260.50 623.30,3260.50C628.87,3260.50 634.43,3258.67 640.00,3257.00C646.87,3254.94 653.73,3247.35 660.60,3245.40C674.30,3241.51 688.00,3238.20 701.70,3238.20C715.40,3238.20 729.10,3239.47 742.80,3240.30C756.53,3241.14 770.27,3243.40 784.00,3243.40C797.70,3243.40 811.40,3243.07 825.10,3242.40C831.93,3242.07 838.77,3239.29 845.60,3237.20C855.90,3234.06 866.20,3230.36 876.50,3224.90C881.30,3222.36 886.10,3214.60 890.90,3214.60C893.63,3214.60 896.37,3221.39 899.10,3222.80C903.20,3224.92 907.30,3226.90 911.40,3226.90C917.60,3226.90 923.80,3223.80 930.00,3223.80C936.87,3223.80 943.73,3223.80 950.60,3223.80C957.43,3223.80 964.27,3232.44 971.10,3234.10C984.83,3237.44 998.57,3238.53 1012.30,3240.20C1032.87,3242.69 1053.43,3245.39 1074.00,3246.40C1094.53,3247.41 1115.07,3247.80 1135.60,3248.40C1149.33,3248.80 1163.07,3249.07 1176.80,3249.50C1194.53,3250.05 1212.27,3250.86 1230.00,3251.50C1240.37,3251.88 1250.73,3252.60 1261.10,3252.60C1274.83,3252.60 1288.57,3247.47 1302.30,3244.30C1312.57,3241.93 1322.83,3238.64 1333.10,3236.10C1342.00,3233.90 1350.90,3234.24 1359.80,3229.90C1363.93,3227.89 1368.07,3211.54 1372.20,3186.80C1374.57,3172.63 1376.93,3120.00 1379.30,3080.00C1381.03,3050.71 1382.77,3008.87 1384.50,2981.10C1385.47,2965.61 1386.43,2953.34 1387.40,2940.00C1388.27,2928.04 1389.13,2912.18 1390.00,2905.00C1390.83,2898.10 1391.67,2892.50 1392.50,2890.00C1393.33,2887.50 1394.17,2885.00 1395.00,2885.00C1395.83,2885.00 1396.67,2887.65 1397.50,2890.00C1398.50,2892.82 1399.50,2898.32 1400.50,2905.00C1401.63,2912.57 1402.77,2926.17 1403.90,2940.00C1405.67,2961.55 1407.43,2993.99 1409.20,3022.30C1411.27,3055.42 1413.33,3098.98 1415.40,3125.10C1418.13,3159.65 1420.87,3195.09 1423.60,3207.30C1427.03,3222.64 1430.47,3234.26 1433.90,3236.10C1444.87,3241.98 1455.83,3244.30 1466.80,3244.30C1484.53,3244.30 1502.27,3242.91 1520.00,3242.30C1530.43,3241.94 1540.87,3241.30 1551.30,3241.30C1563.17,3241.30 1575.03,3243.62 1586.90,3244.80C1610.67,3247.16 1634.43,3251.28 1658.20,3252.00C1693.83,3253.08 1729.47,3253.80 1765.10,3253.80C1774.60,3253.80 1784.10,3249.10 1793.60,3249.10C1801.93,3249.10 1810.27,3254.83 1818.60,3255.50C1848.30,3257.90 1878.00,3258.26 1907.70,3259.10C1935.30,3259.88 1962.90,3260.30 1990.50,3260.90" fill="none" stroke="#800080" stroke-width="6.8" stroke-linejoin="round" stroke-linecap="butt"/><path d="M252.50,3238.50C256.40,3238.33 260.30,3238.29 264.20,3238.00C269.67,3237.60 275.13,3232.30 280.60,3231.70C291.57,3230.50 302.53,3229.80 313.50,3229.80C336.37,3229.80 359.23,3232.70 382.10,3233.60C400.37,3234.32 418.63,3234.70 436.90,3235.30C455.17,3235.90 473.43,3237.20 491.70,3237.20C505.43,3237.20 519.17,3235.24 532.90,3233.60C543.87,3232.29 554.83,3227.60 565.80,3227.60C575.83,3227.60 585.87,3229.18 595.90,3230.90C605.03,3232.47 614.17,3236.92 623.30,3241.30C628.87,3243.97 634.43,3250.31 640.00,3251.60C644.80,3252.72 649.60,3253.70 654.40,3253.70C663.30,3253.70 672.20,3247.46 681.10,3243.40C687.97,3240.27 694.83,3234.10 701.70,3232.10C709.93,3229.70 718.17,3227.30 726.40,3227.30C738.73,3227.30 751.07,3229.04 763.40,3230.00C783.97,3231.60 804.53,3235.20 825.10,3235.20C831.93,3235.20 838.77,3234.66 845.60,3234.10C855.90,3233.26 866.20,3231.36 876.50,3228.00C881.97,3226.22 887.43,3223.20 892.90,3216.60C895.67,3213.26 898.43,3196.57 901.20,3192.00C903.23,3188.64 905.27,3184.80 907.30,3184.80C910.03,3184.80 912.77,3189.92 915.50,3194.00C918.27,3198.13 921.03,3209.02 923.80,3212.50C926.53,3215.94 929.27,3219.70 932.00,3219.70C938.20,3219.70 944.40,3219.70 950.60,3219.70C957.43,3219.70 964.27,3229.51 971.10,3231.00C984.83,3233.99 998.57,3234.89 1012.30,3236.10C1032.87,3237.91 1053.43,3240.20 1074.00,3240.20C1080.83,3240.20 1087.67,3240.20 1094.50,3240.20C1104.77,3240.20 1115.03,3235.64 1125.30,3232.00C1135.60,3228.35 1145.90,3221.66 1156.20,3215.60C1163.07,3211.56 1169.93,3203.78 1176.80,3202.20C1181.60,3201.10 1186.40,3200.10 1191.20,3200.10C1196.67,3200.10 1202.13,3204.74 1207.60,3207.30C1211.73,3209.24 1215.87,3211.12 1220.00,3213.50C1226.87,3217.45 1233.73,3224.41 1240.60,3227.90C1247.43,3231.38 1254.27,3236.10 1261.10,3236.10C1274.83,3236.10 1288.57,3232.12 1302.30,3229.90C1316.00,3227.68 1329.70,3225.57 1343.40,3222.70C1350.23,3221.27 1357.07,3220.91 1363.90,3217.60C1367.33,3215.94 1370.77,3208.94 1374.20,3197.00C1376.97,3187.38 1379.73,3136.66 1382.50,3104.50C1383.73,3090.16 1384.97,3077.93 1386.20,3060.00C1387.30,3044.01 1388.40,3017.47 1389.50,3000.00C1390.93,2977.24 1392.37,2962.96 1393.80,2940.00C1394.53,2928.25 1395.27,2909.28 1396.00,2900.00C1396.83,2889.46 1397.67,2879.62 1398.50,2876.00C1399.40,2872.09 1400.30,2868.50 1401.20,2868.50C1402.10,2868.50 1403.00,2872.04 1403.90,2876.00C1404.70,2879.52 1405.50,2892.26 1406.30,2900.00C1407.73,2913.86 1409.17,2921.54 1410.60,2940.00C1412.20,2960.60 1413.80,3013.79 1415.40,3042.80C1416.17,3056.70 1416.93,3069.37 1417.70,3080.00C1418.97,3097.56 1420.23,3111.29 1421.50,3125.10C1423.57,3147.63 1425.63,3175.29 1427.70,3186.80C1430.43,3202.03 1433.17,3211.93 1435.90,3217.60C1439.33,3224.72 1442.77,3230.59 1446.20,3232.00C1459.90,3237.63 1473.60,3237.95 1487.30,3240.20C1502.70,3242.73 1518.10,3246.60 1533.50,3246.60C1545.37,3246.60 1557.23,3244.10 1569.10,3244.10C1586.93,3244.10 1604.77,3250.53 1622.60,3251.30C1658.23,3252.84 1693.87,3253.80 1729.50,3253.80C1747.30,3253.80 1765.10,3250.28 1782.90,3246.60C1788.87,3245.37 1794.83,3240.60 1800.80,3240.60C1812.67,3240.60 1824.53,3246.03 1836.40,3246.60C1860.17,3247.74 1883.93,3248.40 1907.70,3248.40C1935.30,3248.40 1962.90,3246.53 1990.50,3245.60" fill="none" stroke="#008000" stroke-width="6.8" stroke-linejoin="round" stroke-linecap="butt"/><path d="M252.50,3250.90C256.40,3251.80 260.30,3253.60 264.20,3253.60C271.50,3253.60 278.80,3249.73 286.10,3249.50C308.97,3248.77 331.83,3248.50 354.70,3248.50C377.53,3248.50 400.37,3249.50 423.20,3249.50C428.80,3249.50 434.40,3248.50 440.00,3248.50C451.50,3248.50 463.00,3252.60 474.50,3252.60C479.43,3252.60 484.37,3249.50 489.30,3249.50C501.67,3249.50 514.03,3249.50 526.40,3249.50C531.73,3249.50 537.07,3249.09 542.40,3248.20C544.03,3247.93 545.67,3245.36 547.30,3245.20C552.67,3244.68 558.03,3244.50 563.40,3244.50C569.57,3244.50 575.73,3246.35 581.90,3248.20C588.07,3250.05 594.23,3255.84 600.40,3259.30C606.13,3262.52 611.87,3268.40 617.60,3268.40C621.23,3268.40 624.87,3267.45 628.50,3266.30C632.17,3265.14 635.83,3261.77 639.50,3256.70C641.80,3253.52 644.10,3245.87 646.40,3237.50C648.20,3230.95 650.00,3221.48 651.80,3210.10C653.20,3201.25 654.60,3184.29 656.00,3175.80C657.00,3169.73 658.00,3166.86 659.00,3161.00C660.13,3154.36 661.27,3145.21 662.40,3136.20C663.50,3127.45 664.60,3116.22 665.70,3107.40C667.00,3096.98 668.30,3088.33 669.60,3078.60C670.87,3069.12 672.13,3059.94 673.40,3049.80C674.53,3040.72 675.67,3029.47 676.80,3021.00C678.50,3008.29 680.20,2998.69 681.90,2987.40C683.33,2977.88 684.77,2968.20 686.20,2958.60C687.63,2949.00 689.07,2939.53 690.50,2929.80C692.30,2917.58 694.10,2904.13 695.90,2892.60C697.73,2880.86 699.57,2869.70 701.40,2859.70C703.60,2847.70 705.80,2836.94 708.00,2826.80C710.57,2814.97 713.13,2803.60 715.70,2793.90C718.97,2781.56 722.23,2771.43 725.50,2761.00C727.50,2754.61 729.50,2748.51 731.50,2742.60C734.07,2735.01 736.63,2728.34 739.20,2720.70C742.13,2711.97 745.07,2701.97 748.00,2693.20C750.93,2684.43 753.87,2675.35 756.80,2668.00C760.43,2658.89 764.07,2648.59 767.70,2643.90C770.13,2640.76 772.57,2638.44 775.00,2637.00C776.90,2635.88 778.80,2634.50 780.70,2634.50C782.47,2634.50 784.23,2636.31 786.00,2638.00C787.23,2639.18 788.47,2640.70 789.70,2643.90C791.13,2647.62 792.57,2664.32 794.00,2676.80C795.10,2686.38 796.20,2696.36 797.30,2709.70C798.03,2718.59 798.77,2731.42 799.50,2742.60C800.87,2763.43 802.23,2782.55 803.60,2806.60C804.63,2824.78 805.67,2844.96 806.70,2868.30C807.63,2889.38 808.57,2921.58 809.50,2941.00C811.13,2974.98 812.77,2993.37 814.40,3023.30C815.77,3048.35 817.13,3079.91 818.50,3105.50C819.87,3131.09 821.23,3159.50 822.60,3177.50C824.67,3204.73 826.73,3229.85 828.80,3241.00C830.20,3248.55 831.60,3254.56 833.00,3257.00C835.00,3260.49 837.00,3263.50 839.00,3263.50C841.33,3263.50 843.67,3261.54 846.00,3259.50C848.50,3257.32 851.00,3249.42 853.50,3245.30C858.30,3237.38 863.10,3229.73 867.90,3224.80C872.13,3220.45 876.37,3219.24 880.60,3214.50C885.40,3209.13 890.20,3199.34 895.00,3187.80C899.10,3177.94 903.20,3163.29 907.30,3146.60C910.03,3135.48 912.77,3121.20 915.50,3105.50C917.57,3093.63 919.63,3079.63 921.70,3064.40C923.77,3049.17 925.83,3029.41 927.90,3013.00C928.77,3006.12 929.63,2996.84 930.50,2993.00C931.33,2989.31 932.17,2985.20 933.00,2985.20C933.90,2985.20 934.80,2989.59 935.70,2993.00C936.87,2997.41 938.03,3004.63 939.20,3013.00C940.90,3025.19 942.60,3045.33 944.30,3064.40C945.67,3079.73 947.03,3100.57 948.40,3115.80C949.77,3131.03 951.13,3145.45 952.50,3156.90C954.23,3171.42 955.97,3190.04 957.70,3193.90C961.47,3202.30 965.23,3207.30 969.00,3207.30C973.80,3207.30 978.60,3206.85 983.40,3206.30C990.27,3205.52 997.13,3201.35 1004.00,3198.00C1010.17,3194.99 1016.33,3192.51 1022.50,3186.70C1025.23,3184.12 1027.97,3178.36 1030.70,3173.40C1032.40,3170.32 1034.10,3163.10 1035.80,3163.10C1038.20,3163.10 1040.60,3169.94 1043.00,3175.40C1045.07,3180.10 1047.13,3193.04 1049.20,3196.00C1053.30,3201.87 1057.40,3203.31 1061.50,3206.30C1063.57,3207.81 1065.63,3208.64 1067.70,3210.40C1071.13,3213.32 1074.57,3220.88 1078.00,3223.70C1081.43,3226.52 1084.87,3229.90 1088.30,3229.90C1094.47,3229.90 1100.63,3227.68 1106.80,3225.80C1116.40,3222.88 1126.00,3213.57 1135.60,3210.40C1141.07,3208.60 1146.53,3206.30 1152.00,3206.30C1158.20,3206.30 1164.40,3207.73 1170.60,3209.40C1177.43,3211.25 1184.27,3220.70 1191.10,3224.80C1197.97,3228.92 1204.83,3233.33 1211.70,3235.10C1221.97,3237.74 1232.23,3240.20 1242.50,3240.20C1250.07,3240.20 1257.63,3239.07 1265.20,3237.10C1269.30,3236.03 1273.40,3231.54 1277.50,3224.80C1280.23,3220.31 1282.97,3202.12 1285.70,3193.90C1288.43,3185.68 1291.17,3177.94 1293.90,3173.40C1296.67,3168.81 1299.43,3168.49 1302.20,3163.10C1304.93,3157.77 1307.67,3142.29 1310.40,3126.10C1312.47,3113.86 1314.53,3084.26 1316.60,3074.70C1318.17,3067.45 1319.73,3059.20 1321.30,3059.20C1323.13,3059.20 1324.97,3067.06 1326.80,3074.70C1328.87,3083.31 1330.93,3108.97 1333.00,3126.10C1335.07,3143.23 1337.13,3164.44 1339.20,3177.50C1341.93,3194.77 1344.67,3213.80 1347.40,3218.60C1351.50,3225.80 1355.60,3231.00 1359.70,3231.00C1362.47,3231.00 1365.23,3230.55 1368.00,3229.90C1371.43,3229.09 1374.87,3222.84 1378.30,3214.50C1381.03,3207.86 1383.77,3187.22 1386.50,3167.20C1389.23,3147.18 1391.97,3102.90 1394.70,3085.00C1397.30,3067.97 1399.90,3046.90 1402.50,3046.90C1404.70,3046.90 1406.90,3055.92 1409.10,3064.40C1411.83,3074.94 1414.57,3105.53 1417.30,3126.10C1420.03,3146.67 1422.77,3178.51 1425.50,3187.80C1428.27,3197.21 1431.03,3201.74 1433.80,3206.00C1437.53,3211.75 1441.27,3215.45 1445.00,3219.00C1451.00,3224.70 1457.00,3233.10 1463.00,3233.10C1477.07,3233.10 1491.13,3228.50 1505.20,3228.50C1514.17,3228.50 1523.13,3232.30 1532.10,3232.30C1538.50,3232.30 1544.90,3225.40 1551.30,3225.40C1560.27,3225.40 1569.23,3234.58 1578.20,3235.00C1596.10,3235.83 1614.00,3235.66 1631.90,3236.20C1651.10,3236.78 1670.30,3238.90 1689.50,3238.90C1708.67,3238.90 1727.83,3238.49 1747.00,3237.70C1758.53,3237.22 1770.07,3229.30 1781.60,3229.30C1795.67,3229.30 1809.73,3237.00 1823.80,3237.00C1843.00,3237.00 1862.20,3233.10 1881.40,3233.10C1900.60,3233.10 1919.80,3235.00 1939.00,3235.00C1956.17,3235.00 1973.33,3234.53 1990.50,3234.30" fill="none" stroke="#0000ff" stroke-width="6.8" stroke-linejoin="round" stroke-linecap="butt"/></g><rect x="247.3" y="2382.0" width="1748.1" height="933.0" fill="none" stroke="#000" stroke-width="9.5"/><text x="248.8" y="3390.0" font-size="51.6" text-anchor="middle">0</text><text x="484.2" y="3390.0" font-size="51.6" text-anchor="middle">2</text><text x="719.6" y="3390.0" font-size="51.6" text-anchor="middle">4</text><text x="955.0" y="3390.0" font-size="51.6" text-anchor="middle">6</text><text x="1190.4" y="3390.0" font-size="51.6" text-anchor="middle">8</text><text x="1422.8" y="3390.0" font-size="51.6" text-anchor="middle">10</text><text x="1658.2" y="3390.0" font-size="51.6" text-anchor="middle">12</text><text x="1893.6" y="3390.0" font-size="51.6" text-anchor="middle">14</text><text x="230.5" y="3265.2" font-size="51.6" text-anchor="end">0</text><text x="230.5" y="3118.1" font-size="51.6" text-anchor="end">200</text><text x="230.5" y="2971.1" font-size="51.6" text-anchor="end">400</text><text x="230.5" y="2824.0" font-size="51.6" text-anchor="end">600</text><text x="230.5" y="2677.0" font-size="51.6" text-anchor="end">800</text><text x="230.5" y="2529.9" font-size="51.6" text-anchor="end">1000</text><path d="M482.7,3315.0V3283.2M718.1,3315.0V3283.2M953.5,3315.0V3283.2M1188.9,3315.0V3283.2M1424.3,3315.0V3283.2M1659.7,3315.0V3283.2M1895.1,3315.0V3283.2M247.3,3100.7H279.1M247.3,2954.4H279.1M247.3,2808.0H279.1M247.3,2661.7H279.1M247.3,2515.4H279.1" stroke="#000" stroke-width="9.5" fill="none"/><text x="1122.4" y="3462.0" font-size="51.6" text-anchor="middle">Time (min)</text><text x="19.3" y="2384.4" font-size="71">(c)</text><text x="229.0" y="2397.1" font-size="50.8" text-anchor="end">nRIU</text><text x="336.5" y="2478.5" font-size="41.5" fill="#0000ff">Gel Sample</text><text x="336.5" y="2552.4" font-size="41.5" fill="#ff0000">0.05 mg mL<tspan font-size="27" dy="-14.1">–1</tspan><tspan dy="14.1"> </tspan>Galactose</text><text x="336.5" y="2626.4" font-size="41.5" fill="#008000">0.05 mg mL<tspan font-size="27" dy="-14.1">–1</tspan><tspan dy="14.1"> </tspan>Mannose</text><text x="336.5" y="2700.5" font-size="41.5" fill="#800080">0.05 mg mL<tspan font-size="27" dy="-14.1">–1</tspan><tspan dy="14.1"> </tspan>Xylose</text><text transform="translate(1371.5,2822.4) rotate(-90)" font-size="44.5" text-anchor="middle" fill="#ff0000">9.858</text><text transform="translate(1408.6,2722.9) rotate(-90)" font-size="44.5" text-anchor="middle" fill="#800080">9.898</text><text transform="translate(1449.1,2822.0) rotate(-90)" font-size="44.5" text-anchor="middle" fill="#008000">9.910</text><text transform="translate(1467.8,3010.0) rotate(-90)" font-size="44.5" text-anchor="middle" fill="#0000ff">9.922</text>
</svg></body></html>
